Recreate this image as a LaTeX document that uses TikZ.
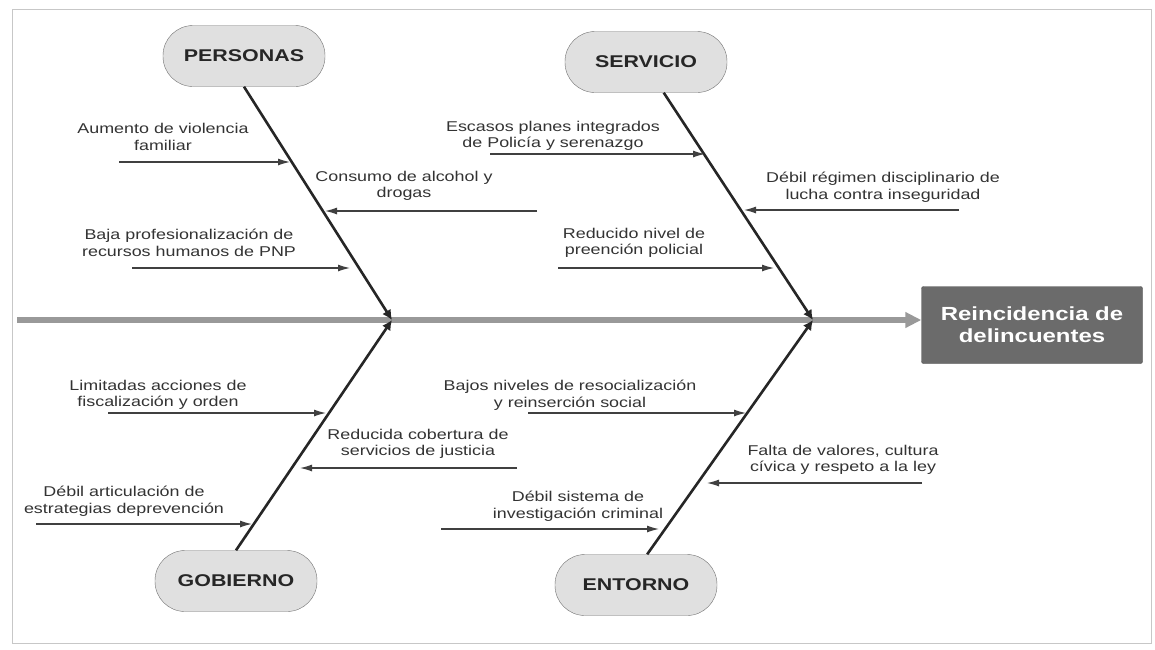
\documentclass[tikz,border=0pt]{standalone}
\usepackage{fontspec}
\setmainfont{Liberation Sans}[FakeStretch=1.26]
\usetikzlibrary{arrows.meta}

\begin{document}
\begin{tikzpicture}[x=1pt, y=-1pt, >={Latex[length=12pt,width=7pt]}, font=\fontsize{14.2}{16.5}\selectfont]
      \tikzstyle{cause}=[draw=black!55, fill=black!12, rounded corners=30pt, minimum width=162pt, minimum height=61pt, text=black!85, font=\fontsize{17}{20}\selectfont\bfseries]
      \tikzstyle{effect}=[draw=black!70, fill=black!58, rounded corners=2pt, minimum width=221pt, minimum height=77pt, align=center, text=white, font=\fontsize{19}{22}\selectfont\bfseries]
      \tikzstyle{label}=[align=center, text=black!80]
      \tikzstyle{spine}=[draw=black!40, line width=6pt, -{Triangle[length=16pt,width=15pt]}]
      \tikzstyle{bone}=[draw=black!85, line width=2.6pt, -{Latex[length=10pt,width=10pt]}]
      \tikzstyle{sub}=[draw=black!75, line width=1.2pt, ->]
      \useasboundingbox (0,0) rectangle (1155,649);
      \fill[white] (0,0) rectangle (1155,649);
      \draw[black!22, line width=0.8pt] (12,9) rectangle (1151,643);
      % head and spine
      \node[effect] (efecto) at (1032,325) {Reincidencia de\\delincuentes};
      \coordinate (inicio) at (17,320);
      \coordinate (j1) at (392,320);
      \coordinate (j2) at (813,320);
      \draw[spine] (inicio) -- (inicio -| efecto.west);
      % categories
      \node[cause] (personas) at (244,56) {PERSONAS};
      \node[cause] (servicio) at (646,62) {SERVICIO};
      \node[cause] (gobierno) at (236,581) {GOBIERNO};
      \node[cause] (entorno) at (636,585) {ENTORNO};
      \draw[bone] (personas.south) -- (j1);
      \draw[bone] (servicio.-60) -- (j2);
      \draw[bone] (gobierno.north) -- (j1);
      \draw[bone] (entorno.70) -- (j2);
      % PERSONAS
      \node[label] (p1) at (163,137) {Aumento de violencia\\familiar};
      \node[label] (p2) at (404,186) {Consumo de alcohol y\\drogas};
      \node[label] (p3) at (189,243) {Baja profesionalización de\\recursos humanos de PNP};
      \coordinate (p1a) at (119,162); \coordinate (p1b) at (290,162);
      \coordinate (p2a) at (537,211); \coordinate (p2b) at (325,211);
      \coordinate (p3a) at (132,268); \coordinate (p3b) at (350,268);
      % SERVICIO
      \node[label] (s1) at (553,136) {Escasos planes integrados\\de Policía y serenazgo};
      \node[label] (s2) at (883,187) {Débil régimen disciplinario de\\lucha contra inseguridad};
      \node[label] (s3) at (634,243) {Reducido nivel de\\preención policial};
      \coordinate (s1a) at (490,154); \coordinate (s1b) at (705,154);
      \coordinate (s2a) at (959,210); \coordinate (s2b) at (744,210);
      \coordinate (s3a) at (558,268); \coordinate (s3b) at (774,268);
      % GOBIERNO
      \node[label] (g1) at (158,395) {Limitadas acciones de\\fiscalización y orden};
      \node[label] (g2) at (418,444) {Reducida cobertura de\\servicios de justicia};
      \node[label] (g3) at (124,501) {Débil articulación de\\estrategias deprevención};
      \coordinate (g1a) at (108,413); \coordinate (g1b) at (326,413);
      \coordinate (g2a) at (517,468); \coordinate (g2b) at (300,468);
      \coordinate (g3a) at (36,524); \coordinate (g3b) at (252,524);
      % ENTORNO
      \node[label] (e1) at (570,395) {Bajos niveles de resocialización\\y reinserción social};
      \node[label] (e2) at (843,460) {Falta de valores, cultura\\cívica y respeto a la ley};
      \node[label] (e3) at (578,506) {Débil sistema de\\investigación criminal};
      \coordinate (e1a) at (528,413); \coordinate (e1b) at (746,413);
      \coordinate (e2a) at (922,483); \coordinate (e2b) at (707,483);
      \coordinate (e3a) at (441,529); \coordinate (e3b) at (659,529);
      \path[every edge/.style={sub}]
      (p1a) edge (p1b) (p2a) edge (p2b) (p3a) edge (p3b)
      (s1a) edge (s1b) (s2a) edge (s2b) (s3a) edge (s3b)
      (g1a) edge (g1b) (g2a) edge (g2b) (g3a) edge (g3b)
      (e1a) edge (e1b) (e2a) edge (e2b) (e3a) edge (e3b);
\end{tikzpicture}
\end{document}
